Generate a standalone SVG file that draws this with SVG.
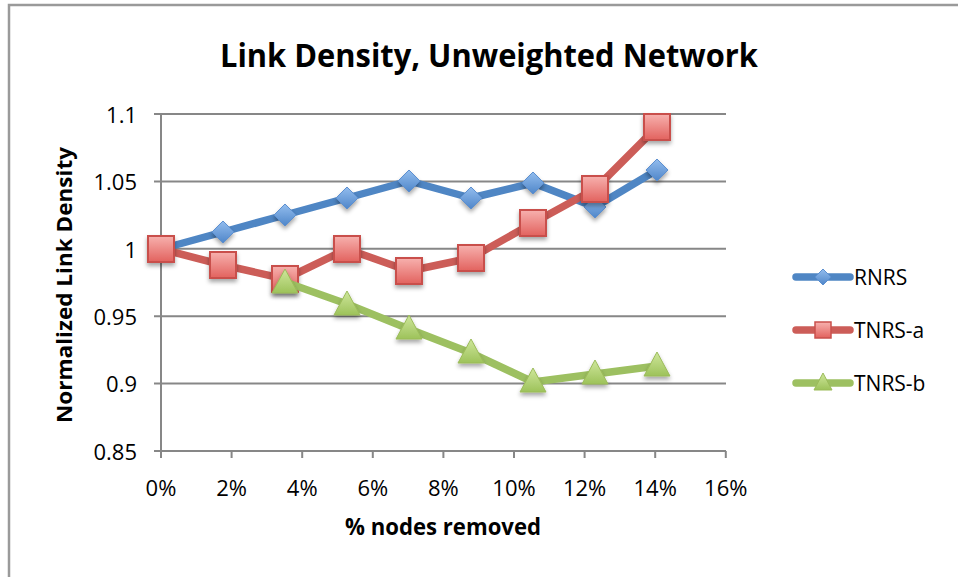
<svg xmlns="http://www.w3.org/2000/svg" xmlns:xlink="http://www.w3.org/1999/xlink" width="958" height="577" viewBox="0 0 958 577">
  <style>
    .grid { stroke: #878787; stroke-width: 2; fill: none; }
    .tick { font-family: "Open Sans", "Liberation Sans", sans-serif; font-size: 22px; fill: #000; }
    .ytick { text-anchor: end; }
    .xtick { text-anchor: middle; }
    .title { font-family: "Open Sans", "Liberation Sans", sans-serif; font-weight: bold; fill: #000; }
    .legend { font-family: "Open Sans", "Liberation Sans", sans-serif; font-size: 21px; fill: #000; }
    .series { fill: none; stroke-width: 7.5; stroke-linejoin: round; stroke-linecap: round; }
  </style>
  <defs>
    <linearGradient id="gBlue" x1="0" y1="0" x2="0" y2="1">
      <stop offset="0" stop-color="#93bdee"/>
      <stop offset="1" stop-color="#4f86c9"/>
    </linearGradient>
    <linearGradient id="gRed" x1="0" y1="0" x2="0" y2="1">
      <stop offset="0" stop-color="#f7b1ae"/>
      <stop offset="1" stop-color="#e2625e"/>
    </linearGradient>
    <linearGradient id="gGreen" x1="0" y1="0" x2="0" y2="1">
      <stop offset="0" stop-color="#cfe79c"/>
      <stop offset="1" stop-color="#9dc25a"/>
    </linearGradient>
    <filter id="shadow" x="-50%" y="-50%" width="200%" height="200%">
      <feDropShadow dx="0" dy="3" stdDeviation="2" flood-color="#000" flood-opacity="0.35"/>
    </filter>
    <path id="diamond" d="M0,-11 L11,0 L0,11 L-11,0 Z" fill="url(#gBlue)" stroke="#5b8fd0" stroke-width="1"/>
    <rect id="square" x="-13" y="-13" width="26" height="26" fill="url(#gRed)" stroke="#c9504c" stroke-width="2"/>
    <path id="triangle" d="M0,-14 L13,10 L-13,10 Z" fill="url(#gGreen)" stroke="#9bbb59" stroke-width="1"/>
    <path id="diamondS" d="M0,-8 L8,0 L0,8 L-8,0 Z" fill="url(#gBlue)" stroke="#5b8fd0" stroke-width="1"/>
    <rect id="squareS" x="-8" y="-8" width="16" height="16" fill="url(#gRed)" stroke="#c9504c" stroke-width="1.5"/>
    <path id="triangleS" d="M0,-10 L9,7 L-9,7 Z" fill="url(#gGreen)" stroke="#9bbb59" stroke-width="1"/>
  </defs>

  <!-- chart background and frame -->
  <rect x="0" y="0" width="958" height="577" fill="#ffffff"/>
  <path d="M9,577 L9,5 L958,5" fill="none" stroke="#9a9a9a" stroke-width="2.5"/>

  <!-- title -->
  <text class="title" x="489" y="67" font-size="32" text-anchor="middle" textLength="538" lengthAdjust="spacingAndGlyphs">Link Density, Unweighted Network</text>

  <!-- axes and gridlines -->
  <g id="axes">
    <path class="grid" d="M154,114 H726 M154,181.4 H726 M154,248.8 H726 M154,316.2 H726 M154,383.6 H726 M154,451 H726"/>
    <path class="grid" d="M161,114 V458 M231.6,451 V458 M302.2,451 V458 M372.8,451 V458 M443.4,451 V458 M514,451 V458 M584.6,451 V458 M655.2,451 V458 M725.8,451 V458"/>
  </g>

  <!-- y tick labels -->
  <g id="y-labels">
    <text class="tick ytick" x="137" y="123">1.1</text>
    <text class="tick ytick" x="137" y="190">1.05</text>
    <text class="tick ytick" x="137" y="258">1</text>
    <text class="tick ytick" x="137" y="325">0.95</text>
    <text class="tick ytick" x="137" y="392">0.9</text>
    <text class="tick ytick" x="137" y="460">0.85</text>
  </g>

  <!-- x tick labels -->
  <g id="x-labels">
    <text class="tick xtick" x="161" y="496">0%</text>
    <text class="tick xtick" x="231.6" y="496">2%</text>
    <text class="tick xtick" x="302.2" y="496">4%</text>
    <text class="tick xtick" x="372.8" y="496">6%</text>
    <text class="tick xtick" x="443.4" y="496">8%</text>
    <text class="tick xtick" x="514" y="496">10%</text>
    <text class="tick xtick" x="584.6" y="496">12%</text>
    <text class="tick xtick" x="655.2" y="496">14%</text>
    <text class="tick xtick" x="725.8" y="496">16%</text>
  </g>

  <!-- axis titles -->
  <text class="title" x="443" y="535" font-size="23" text-anchor="middle" textLength="196" lengthAdjust="spacingAndGlyphs">% nodes removed</text>
  <text class="title" transform="translate(72,285) rotate(-90)" x="0" y="0" font-size="22" text-anchor="middle" textLength="276" lengthAdjust="spacingAndGlyphs">Normalized Link Density</text>

  <!-- data series -->
  <g id="series-rnrs">
    <polyline class="series" stroke="#4f86c4" points="161,249 223,232 285,215 347,198 409,181 471,198 533,183 595,207 657,170"/>
    <g filter="url(#shadow)">
      <use xlink:href="#diamond" x="223" y="232"/>
      <use xlink:href="#diamond" x="285" y="215"/>
      <use xlink:href="#diamond" x="347" y="198"/>
      <use xlink:href="#diamond" x="409" y="181"/>
      <use xlink:href="#diamond" x="471" y="198"/>
      <use xlink:href="#diamond" x="533" y="183"/>
      <use xlink:href="#diamond" x="595" y="207"/>
      <use xlink:href="#diamond" x="657" y="170"/>
    </g>
  </g>
  <g id="series-tnrs-a">
    <polyline class="series" stroke="#cc5d58" points="161,249 223,265 285,279 347,249 409,271 471,258 533,223 595,189 657,127"/>
    <g filter="url(#shadow)">
      <use xlink:href="#square" x="161" y="249"/>
      <use xlink:href="#square" x="223" y="265"/>
      <use xlink:href="#square" x="285" y="279"/>
      <use xlink:href="#square" x="347" y="249"/>
      <use xlink:href="#square" x="409" y="271"/>
      <use xlink:href="#square" x="471" y="258"/>
      <use xlink:href="#square" x="533" y="223"/>
      <use xlink:href="#square" x="595" y="189"/>
      <use xlink:href="#square" x="657" y="127"/>
    </g>
  </g>
  <g id="series-tnrs-b">
    <polyline class="series" stroke="#9dc061" points="285,282 347,304 409,329 471,353 533,382 595,374 657,366"/>
    <g filter="url(#shadow)">
      <use xlink:href="#triangle" x="285" y="283"/>
      <use xlink:href="#triangle" x="347" y="305"/>
      <use xlink:href="#triangle" x="409" y="329"/>
      <use xlink:href="#triangle" x="471" y="353"/>
      <use xlink:href="#triangle" x="533" y="382"/>
      <use xlink:href="#triangle" x="595" y="374"/>
      <use xlink:href="#triangle" x="657" y="366"/>
    </g>
  </g>

  <!-- legend -->
  <g id="legend">
    <g id="legend-rnrs">
      <line class="series" stroke="#4f86c4" stroke-width="6" x1="796" y1="277" x2="850" y2="277"/>
      <use xlink:href="#diamondS" x="823" y="277"/>
      <text class="legend" x="854" y="285">RNRS</text>
    </g>
    <g id="legend-tnrs-a">
      <line class="series" stroke="#cc5d58" stroke-width="6" x1="796" y1="330" x2="850" y2="330"/>
      <use xlink:href="#squareS" x="823" y="330"/>
      <text class="legend" x="854" y="338">TNRS-a</text>
    </g>
    <g id="legend-tnrs-b">
      <line class="series" stroke="#9dc061" stroke-width="6" x1="796" y1="383" x2="850" y2="383"/>
      <use xlink:href="#triangleS" x="823" y="383"/>
      <text class="legend" x="854" y="391">TNRS-b</text>
    </g>
  </g>
</svg>
